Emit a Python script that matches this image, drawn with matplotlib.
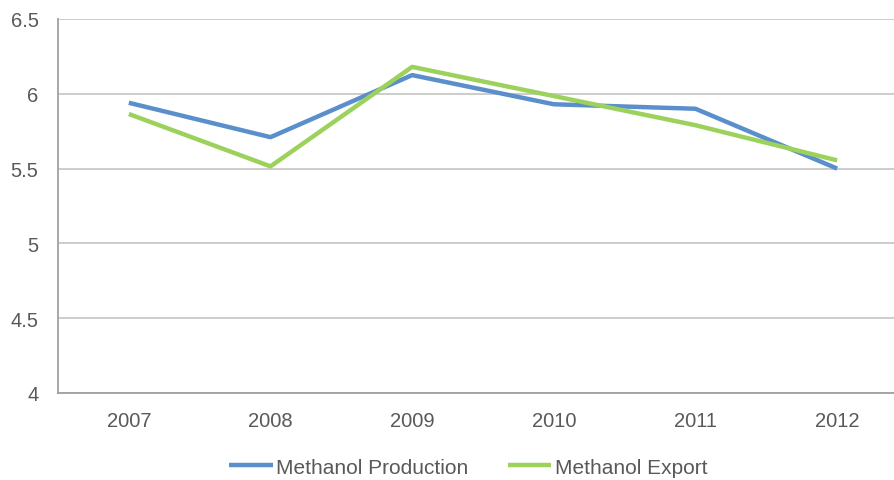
import matplotlib
matplotlib.use("Agg")
import matplotlib.pyplot as plt

plt.rcParams['font.family'] = ['Liberation Sans', 'DejaVu Sans']

years = ["2007", "2008", "2009", "2010", "2011", "2012"]
production = [5.94, 5.71, 6.125, 5.93, 5.90, 5.50]
export = [5.865, 5.515, 6.18, 5.985, 5.79, 5.555]
yticks = [4, 4.5, 5, 5.5, 6, 6.5]
ytick_labels = ["4", "4.5", "5", "5.5", "6", "6.5"]

W, H = 895, 481
fig = plt.figure(figsize=(W / 100, H / 100), dpi=100)
left, right, top, bottom = 58, 908, 20, 394
ax = fig.add_axes([left / W, 1 - bottom / H, (right - left) / W, (bottom - top) / H])

x = list(range(len(years)))
ax.plot(x, production, color="#5A8FCB", lw=3.2, solid_capstyle="butt", label="Methanol Production")
ax.plot(x, export, color="#9CD25C", lw=3.2, solid_capstyle="butt", label="Methanol Export")

ax.set_xlim(-0.5, len(years) - 0.5)
ax.set_ylim(4, 6.5)
ax.set_yticks(yticks)
ax.set_yticklabels(ytick_labels)
ax.set_xticks(x)
ax.set_xticklabels(years)
ax.grid(axis="y", color="#C8C8C8", lw=1.3)
ax.set_axisbelow(True)
for s in ["top", "right"]:
    ax.spines[s].set_visible(False)
for s in ["left", "bottom"]:
    ax.spines[s].set_color("#A0A0A0")
    ax.spines[s].set_linewidth(1.3)
ax.tick_params(axis="both", length=0, labelsize=14.5, colors="#595959")
ax.tick_params(axis="y", pad=14)
ax.tick_params(axis="x", pad=13)

fig.legend(loc="center", bbox_to_anchor=(468 / W, 1 - 468 / H), ncol=2, frameon=False,
           fontsize=15, handlelength=2.1, handletextpad=0.15, columnspacing=1.9,
           labelcolor="#595959")

fig.savefig("out.png", dpi=100)
